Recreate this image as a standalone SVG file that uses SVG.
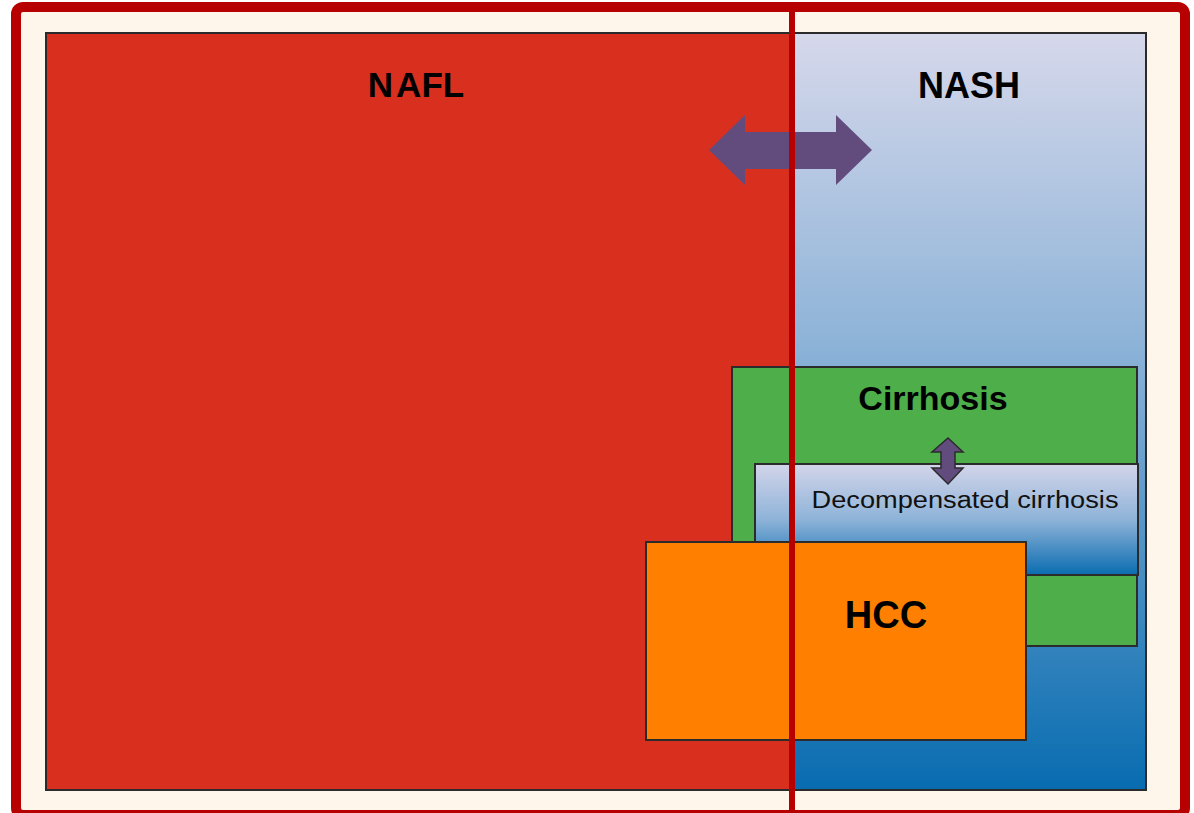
<svg xmlns="http://www.w3.org/2000/svg" width="1194" height="813" viewBox="0 0 1194 813">
<style>
.box{stroke:#2b2b2b;stroke-width:2}
.lbl{font-family:"Liberation Sans",Arial,sans-serif;font-weight:bold;fill:#000;text-anchor:middle}
.arrow{fill:#624C7E}
</style>
<defs>
<linearGradient id="blueGrad" x1="0" y1="0" x2="0" y2="1">
<stop offset="0" stop-color="#D6D8EB"/>
<stop offset="0.4" stop-color="#8FB4D8"/>
<stop offset="1" stop-color="#086CB0"/>
</linearGradient>
<linearGradient id="decompGrad" x1="0" y1="0" x2="0" y2="1">
<stop offset="0" stop-color="#D3D5EA"/>
<stop offset="0.5" stop-color="#8EB3D8"/>
<stop offset="1" stop-color="#0A6CB0"/>
</linearGradient>
</defs>
<rect x="0" y="0" width="1194" height="813" fill="#ffffff"/>
<g id="frame">
<rect x="16" y="7" width="1169" height="808" rx="7" fill="#FEF5EB" stroke="#B70000" stroke-width="10"/>
</g>
<g id="nash">
<rect class="box" x="46" y="33" width="1100" height="757" fill="url(#blueGrad)"/>
<text class="lbl" x="969" y="98" font-size="36">NASH</text>
</g>
<g id="nafl">
<rect x="47" y="34" width="745" height="755" fill="#D92F1F"/>
<path d="M47 33 H792 M46 33 V790 M46 790 H792" fill="none" stroke="#2b2b2b" stroke-width="2"/>
<text class="lbl" x="416" y="97" font-size="35">N<tspan dx="3">AFL</tspan></text>
</g>
<g id="cirrhosis">
<rect class="box" x="732" y="367" width="405" height="279" fill="#4DAE4A"/>
<text class="lbl" x="933" y="410" font-size="34">Cirrhosis</text>
</g>
<g id="decompensated">
<rect class="box" x="755" y="464" width="383" height="111" fill="url(#decompGrad)"/>
<text x="965" y="508" font-family="&quot;Liberation Sans&quot;, Arial, sans-serif" font-size="23" fill="#111" text-anchor="middle" textLength="307" lengthAdjust="spacingAndGlyphs">Decompensated cirrhosis</text>
</g>
<g id="hcc">
<rect class="box" x="646" y="542" width="380" height="198" fill="#FF8000"/>
<text class="lbl" x="886" y="628" font-size="38">HCC</text>
</g>
<g id="connectors">
<path class="arrow" d="M709 150 L745 115 V132 H836 V115 L872 150 L836 185 V169 H745 V185 Z"/>
<line x1="792" y1="2" x2="792" y2="813" stroke="#B70000" stroke-width="6"/>
<path class="arrow" d="M948 438 L963 452 H955 V468 H963 L948 484 L932 468 H941 V452 H932 Z" stroke="#2b2b2b" stroke-width="1.5"/>
</g>
</svg>
